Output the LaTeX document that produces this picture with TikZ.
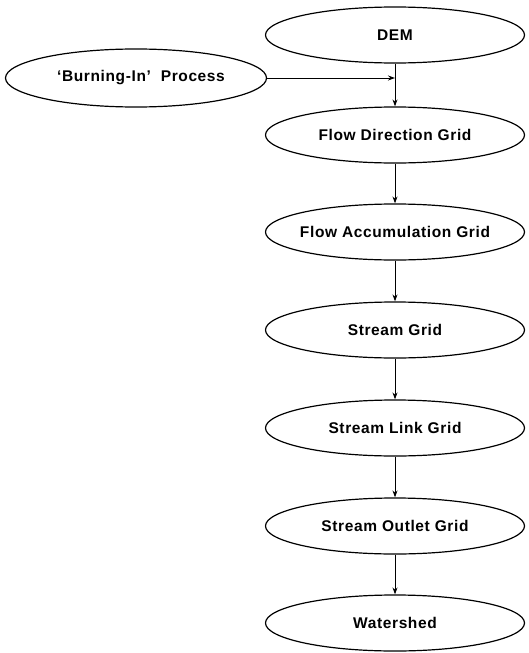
\documentclass[tikz,border=0pt]{standalone}
\usepackage{fontspec}
\setmainfont{Liberation Sans}
\newfontfamily\diagfont[LetterSpace=4]{Liberation Sans}
\usetikzlibrary{shapes.geometric,arrows.meta}
\newcommand{\ptxt}[1]{\makebox[0pt][c]{#1}}
\begin{document}
\begin{tikzpicture}[x=1pt,y=-1pt,
  proc/.style={ellipse,draw,line width=1.2pt,minimum width=259pt,minimum height=56pt,inner sep=0pt,
    font=\diagfont\fontsize{15.5}{18}\selectfont\bfseries},
  conn/.style={line width=1pt,-{Stealth[length=7pt,width=5pt]}}]
\useasboundingbox (0,0) rectangle (528,653);
\node[proc] (dem) at (395,35) {\ptxt{DEM}};
\node[proc,minimum width=261pt,minimum height=58pt] (burn) at (136,78) {\ptxt{\hspace{10pt}‘Burning-In’\ \ Process}};
\node[proc] (fdir) at (395,135) {\ptxt{Flow Direction Grid}};
\node[proc] (facc) at (395,232) {\ptxt{Flow Accumulation Grid}};
\node[proc] (sgrid) at (395,330) {\ptxt{Stream Grid}};
\node[proc] (slink) at (395,428) {\ptxt{Stream Link Grid}};
\node[proc] (sout) at (395,526) {\ptxt{Stream Outlet Grid}};
\node[proc] (wsh) at (395,623) {\ptxt{Watershed}};
\coordinate (j) at (dem.south |- burn.east);
\draw[conn] (burn.east) -- (j);
\draw[conn] (dem.south) -- (fdir.north);
\draw[conn] (fdir) -- (facc);
\draw[conn] (facc) -- (sgrid);
\draw[conn] (sgrid) -- (slink);
\draw[conn] (slink) -- (sout);
\draw[conn] (sout) -- (wsh);
\end{tikzpicture}
\end{document}
